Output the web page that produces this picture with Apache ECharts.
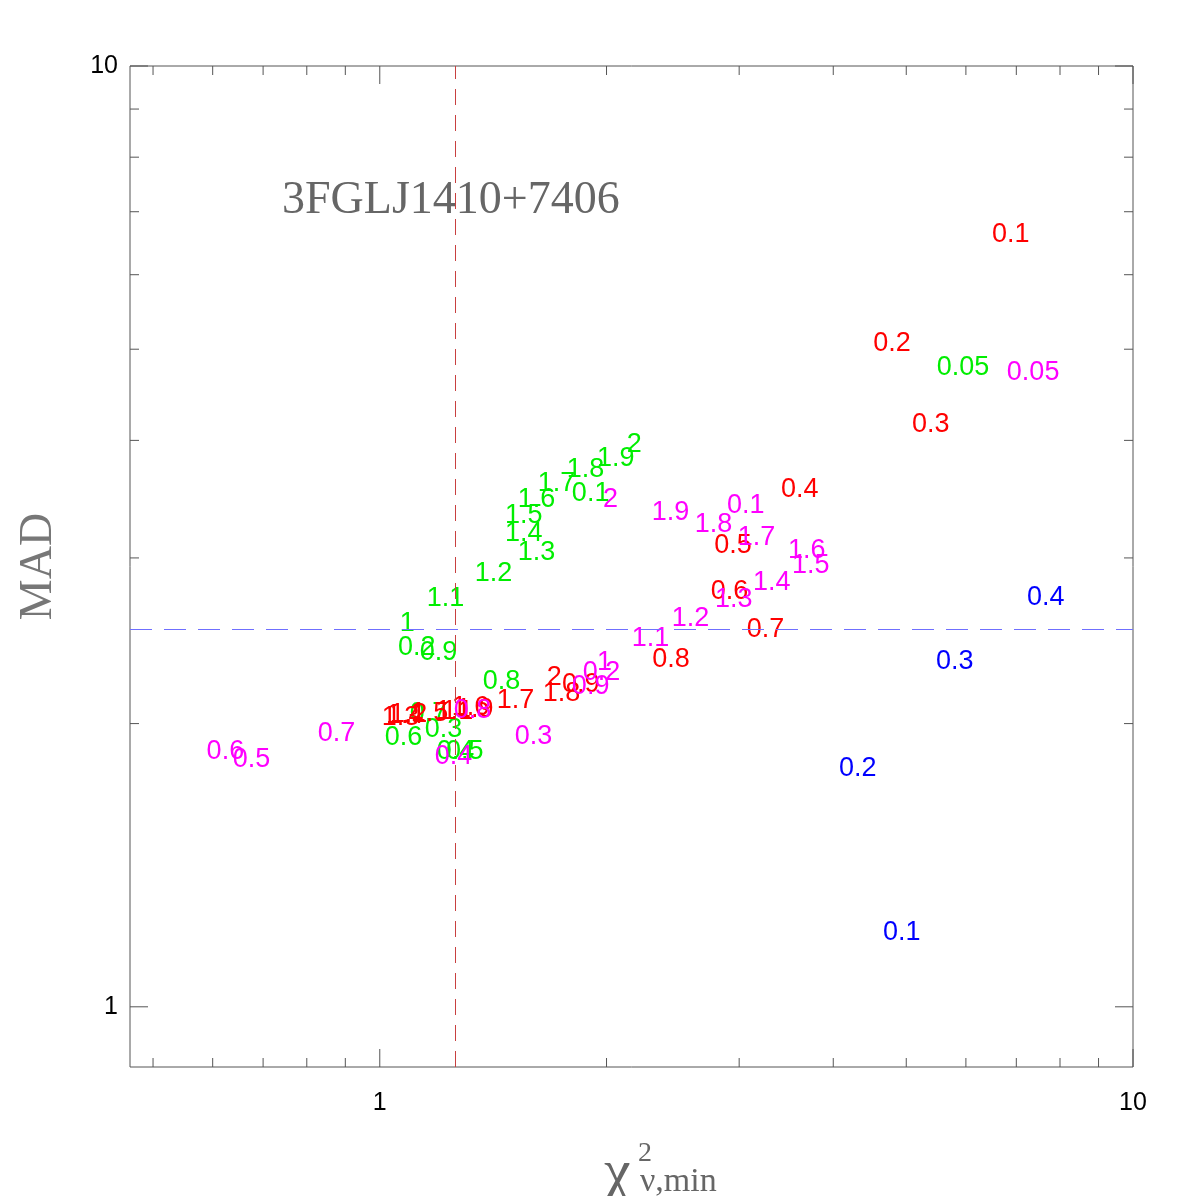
<!DOCTYPE html>
<html>
<head>
<meta charset="utf-8">
<script src="https://cdn.jsdelivr.net/npm/echarts@6/dist/echarts.min.js"></script>
<style>
  html, body { margin: 0; padding: 0; background: #fff; }
  #chart { width: 1196px; height: 1196px; }
</style>
</head>
<body>
<div id="chart"></div>
<script>
// axis ranges (log-log)
const xMin = 0.466, xMax = 10;
const yMin = 0.863, yMax = 10;
const xCut = 1.258;   // vertical dashed line
const yCut = 2.515;   // horizontal dashed line

const xMinorTicks = [0.5, 0.6, 0.7, 0.8, 0.9, 2, 3, 4, 5, 6, 7, 8, 9];
const xMajorTicks = [1, 10];
const yMinorTicks = [2, 3, 4, 5, 6, 7, 8, 9];
const yMajorTicks = [1, 10];

// labels written at each point
const redLabels = ['0.1','0.2','0.3','0.4','0.5','0.6','0.7','0.8','0.9','1',
  '1.1','1.2','1.3','1.4','1.5','1.6','1.7','1.8','1.9','2'];
const fullLabels = ['0.05'].concat(redLabels);
const blueLabels = ['0.1','0.2','0.3','0.4'];

const redChi = [6.50, 4.52, 5.09, 3.41, 2.78, 2.75, 3.07, 2.30, 1.745, 1.209,
  1.187, 1.031, 1.006, 1.019, 1.099, 1.246, 1.430, 1.646, 1.262, 1.666];
const redMad = [6.65, 5.10, 4.18, 3.56, 3.105, 2.774, 2.528, 2.349, 2.210, 2.068,
  2.068, 2.053, 2.038, 2.048, 2.058, 2.089, 2.125, 2.162, 2.079, 2.248];

const greenChi = [5.49, 1.799, 1.057, 1.147, 1.190, 1.224, 1.015, 1.096, 1.370, 1.130, 1.063,
  1.154, 1.337, 1.525, 1.466, 1.466, 1.525, 1.621, 1.771, 1.942, 2.128];
const greenMad = [4.80, 3.526, 2.419, 1.980, 1.876, 1.876, 1.941, 2.058, 2.226, 2.390, 2.566,
  2.728, 2.900, 3.052, 3.198, 3.342, 3.475, 3.614, 3.740, 3.842, 3.976];

const magentaChi = [6.80, 2.890, 1.860, 1.511, 1.183, 0.638, 0.589, 0.827, 1.254, 1.799, 1.942,
  2.161, 2.442, 2.786, 3.129, 3.525, 3.482, 2.988, 2.620, 2.297, 1.978];
const magentaMad = [4.75, 3.424, 2.275, 1.945, 1.853, 1.839, 1.876, 1.960, 2.074, 2.199, 2.331,
  2.473, 2.597, 2.721, 2.837, 2.957, 3.067, 3.167, 3.268, 3.366, 3.475];

const blueChi = [4.656, 4.071, 5.475, 7.232];
const blueMad = [1.204, 1.799, 2.338, 2.735];

const labelFont = '27px "Liberation Sans", Arial, sans-serif';
const serifFont = '"Liberation Serif", "DejaVu Serif", serif';

function textSeries(name, chi, mad, labels, color) {
  return {
    name: name,
    type: 'custom',
    coordinateSystem: 'cartesian2d',
    data: chi.map((c, i) => [c, mad[i]]),
    renderItem: function (params, api) {
      const p = api.coord([api.value(0), api.value(1)]);
      return {
        type: 'text',
        x: p[0],
        y: p[1] + 2,
        style: {
          text: labels[params.dataIndex],
          fill: color,
          font: labelFont,
          align: 'left',
          verticalAlign: 'middle'
        }
      };
    }
  };
}

function tickSeries(vals, onX, len) {
  return {
    type: 'custom',
    coordinateSystem: 'cartesian2d',
    silent: true,
    data: vals.map(v => onX ? [v, yMin] : [xMin, v]),
    renderItem: function (params, api) {
      const v = onX ? api.value(0) : api.value(1);
      const style = { stroke: '#555', lineWidth: 1 };
      if (onX) {
        const b = api.coord([v, yMin]);
        const t = api.coord([v, yMax]);
        return { type: 'group', children: [
          { type: 'line', shape: { x1: b[0], y1: b[1], x2: b[0], y2: b[1] - len }, style: style },
          { type: 'line', shape: { x1: t[0], y1: t[1], x2: t[0], y2: t[1] + len }, style: style }
        ]};
      }
      const l = api.coord([xMin, v]);
      const r = api.coord([xMax, v]);
      return { type: 'group', children: [
        { type: 'line', shape: { x1: l[0], y1: l[1], x2: l[0] + len, y2: l[1] }, style: style },
        { type: 'line', shape: { x1: r[0], y1: r[1], x2: r[0] - len, y2: r[1] }, style: style }
      ]};
    }
  };
}

function powerLabel(v) {
  const l = Math.log10(v);
  return Math.abs(l - Math.round(l)) < 1e-6 ? String(Math.round(v)) : '';
}

const chart = echarts.init(document.getElementById('chart'));
chart.setOption({
  animation: false,
  backgroundColor: '#fff',
  grid: {
    left: 130, top: 66, width: 1003, height: 1001,
    show: true, borderColor: '#555', borderWidth: 1
  },
  xAxis: {
    type: 'log', logBase: 10, min: xMin, max: xMax,
    axisLine: { show: false }, axisTick: { show: false }, splitLine: { show: false },
    axisLabel: {
      formatter: powerLabel, margin: 24, color: '#000',
      fontSize: 25, fontFamily: '"Liberation Sans", Arial, sans-serif'
    }
  },
  yAxis: {
    type: 'log', logBase: 10, min: yMin, max: yMax,
    axisLine: { show: false }, axisTick: { show: false }, splitLine: { show: false },
    axisLabel: {
      formatter: powerLabel, margin: 12, color: '#000',
      fontSize: 25, fontFamily: '"Liberation Sans", Arial, sans-serif'
    },
    name: 'MAD', nameLocation: 'middle', nameRotate: 90, nameGap: 68,
    nameTextStyle: { fontSize: 46, fontFamily: serifFont, color: '#777' }
  },
  graphic: [
    {
      type: 'text', left: 282, top: 178,
      style: { text: '3FGLJ1410+7406', font: '46px ' + serifFont, fill: '#666' }
    },
    {
      type: 'text', x: 604, y: 1174,
      style: { text: 'χ', font: '60px ' + serifFont, fill: '#666', verticalAlign: 'middle' }
    },
    {
      type: 'text', x: 638, y: 1154,
      style: { text: '2', font: '28px ' + serifFont, fill: '#666', verticalAlign: 'middle' }
    },
    {
      type: 'text', x: 640, y: 1182,
      style: { text: 'ν,min', font: '34px ' + serifFont, fill: '#666', verticalAlign: 'middle' }
    }
  ],
  series: [
    tickSeries(xMinorTicks, true, 9),
    tickSeries(xMajorTicks, true, 18),
    tickSeries(yMinorTicks, false, 9),
    tickSeries(yMajorTicks, false, 18),
    {
      type: 'line',
      data: [],
      markLine: {
        silent: true,
        symbol: ['none', 'none'],
        label: { show: false },
        data: [
          { xAxis: xCut, lineStyle: { color: '#c84040', width: 1, type: [16, 10] } },
          { yAxis: yCut, lineStyle: { color: '#6f6fff', width: 1, type: [22, 12] } }
        ]
      }
    },
    textSeries('green', greenChi, greenMad, fullLabels, '#00ee00'),
    textSeries('red', redChi, redMad, redLabels, '#ff0000'),
    textSeries('magenta', magentaChi, magentaMad, fullLabels, '#ff00ff'),
    textSeries('blue', blueChi, blueMad, blueLabels, '#0000ff')
  ]
});
</script>
</body>
</html>
